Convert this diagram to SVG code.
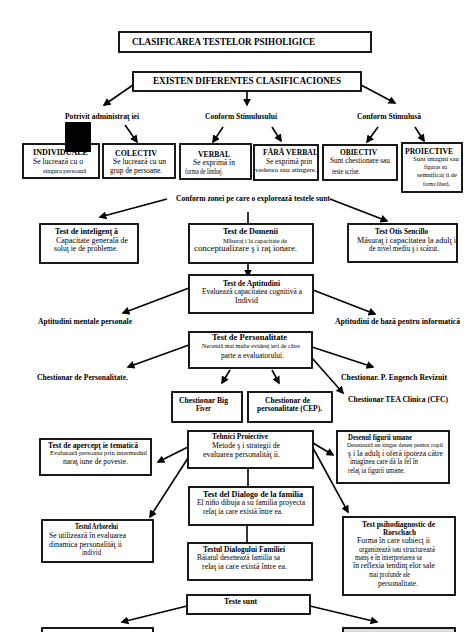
<svg xmlns="http://www.w3.org/2000/svg" width="474" height="632" viewBox="0 0 474 632">
<style>
text{font-family:"Liberation Serif","Times New Roman",serif;fill:#000}
.t{font-weight:bold;font-size:9.5px}
.b{font-weight:bold;font-size:8px}
.r{font-size:8px}
.s{font-size:6.5px}
.box{fill:#fff;stroke:#000;stroke-width:1.8}
.ln{fill:none;stroke:#000;stroke-width:1.6}
.ar{fill:none;stroke:#000;stroke-width:1.6;marker-end:url(#ah)}
</style>
<defs>
<marker id="ah" viewBox="0 0 10 10" refX="8" refY="5" markerWidth="8" markerHeight="8" orient="auto" markerUnits="userSpaceOnUse">
<path d="M0,0 L10,5 L0,10 Z" fill="#000"/>
</marker>
</defs>
<rect width="474" height="632" fill="#fff"/>

<g id="connectors">
<path class="ar" d="M133,85 L104,105"/>
<path class="ar" d="M247,91 L247,105"/>
<path class="ar" d="M361,85 L395,103"/>
<path class="ar" d="M125,125 L137,142"/>
<path class="ar" d="M223,127 L213,142"/>
<path class="ar" d="M272,127 L281,141"/>
<path class="ar" d="M378,127 L367,142"/>
<path class="ar" d="M415,127 L424,141"/>
<path class="ar" d="M167,199 L100,217"/>
<path class="ar" d="M330,199 L387,221"/>
<path class="ln" d="M248,212 L248,224"/>
<path class="ar" d="M248,263 L248,276"/>
<path class="ar" d="M189,288 L123,313"/>
<path class="ar" d="M313,290 L375,314"/>
<path class="ar" d="M189,345 L128,367"/>
<path class="ar" d="M312,347 L373,367"/>
<path class="ar" d="M230,370 L222,383"/>
<path class="ar" d="M272,370 L279,383"/>
<path class="ar" d="M312,358 L343,393"/>
<path class="ar" d="M188,447 L158,462"/>
<path class="ar" d="M188,458 L150,517"/>
<path class="ar" d="M313,443 L333,455"/>
<path class="ar" d="M313,448 L348,512"/>
<path class="ln" d="M248,468 L248,487"/>
<path class="ln" d="M247,525 L247,543"/>
<path class="ar" d="M187,606 L122,622"/>
<path class="ar" d="M310,606 L377,622"/>
</g>

<g id="title">
<rect class="box" x="119" y="32" width="252" height="20"/>
<text class="t" x="132" y="45" textLength="183" lengthAdjust="spacingAndGlyphs">CLASIFICAREA TESTELOR PSIHOLIGICE</text>
</g>

<g id="existen">
<rect class="box" x="133" y="72" width="228" height="19" stroke-width="2.2"/>
<text class="t" x="153" y="84" textLength="188" lengthAdjust="spacingAndGlyphs">EXISTEN DIFERENTES CLASIFICACIONES</text>
</g>

<g id="potrivit">
<text class="b" x="65" y="119" textLength="74" lengthAdjust="spacingAndGlyphs">Potrivit administraţ iei</text>
</g>
<g id="conform-stimulusului">
<text class="b" x="205" y="119" textLength="72" lengthAdjust="spacingAndGlyphs">Conform Stimulusului</text>
</g>
<g id="conform-stimulusa">
<text class="b" x="357" y="119" textLength="64" lengthAdjust="spacingAndGlyphs">Conform Stimulusă</text>
</g>

<g id="individuale">
<rect class="box" x="23" y="144" width="76" height="34"/>
<text class="b" x="33" y="155" textLength="55" lengthAdjust="spacingAndGlyphs">INDIVIDUALE</text>
<text class="r" x="33" y="164" textLength="50" lengthAdjust="spacingAndGlyphs">Se lucrează cu o</text>
<text class="s" x="43" y="173" textLength="43" lengthAdjust="spacingAndGlyphs">singura persoană</text>
<rect x="65" y="122" width="26" height="30" fill="#000"/>
</g>

<g id="colectiv">
<rect class="box" x="103" y="144" width="72" height="34"/>
<text class="b" x="115" y="156" textLength="42" lengthAdjust="spacingAndGlyphs">COLECTIV</text>
<text class="r" x="113" y="164" textLength="53" lengthAdjust="spacingAndGlyphs">Se lucrează cu un</text>
<text class="r" x="110" y="173" textLength="52" lengthAdjust="spacingAndGlyphs">grup de persoane.</text>
</g>

<g id="verbal">
<rect class="box" x="180" y="144" width="71" height="35"/>
<text class="b" x="198" y="157" textLength="32" lengthAdjust="spacingAndGlyphs">VERBAL</text>
<text class="r" x="193" y="165" textLength="42" lengthAdjust="spacingAndGlyphs">Se exprimă în</text>
<text class="r" x="185" y="174" textLength="38" lengthAdjust="spacingAndGlyphs">forma de limbaj.</text>
</g>

<g id="fara-verbal">
<rect class="box" x="254" y="145" width="64" height="35"/>
<text class="b" x="263" y="155" textLength="55" lengthAdjust="spacingAndGlyphs">FĂRĂ VERBAL</text>
<text class="r" x="266" y="164" textLength="46" lengthAdjust="spacingAndGlyphs">Se exprimă prin</text>
<text class="s" x="255" y="172" textLength="62" lengthAdjust="spacingAndGlyphs">vederea sau atingere.</text>
</g>

<g id="obiectiv">
<rect class="box" x="323" y="145" width="74" height="35"/>
<text class="b" x="340" y="155" textLength="37" lengthAdjust="spacingAndGlyphs">OBIECTIV</text>
<text class="r" x="330" y="163" textLength="60" lengthAdjust="spacingAndGlyphs">Sunt chestionare sau</text>
<text class="r" x="332" y="174" textLength="28" lengthAdjust="spacingAndGlyphs">teste scrise.</text>
</g>

<g id="proiective">
<rect class="box" x="402" y="143" width="60" height="49"/>
<text class="b" x="405" y="154" textLength="48" lengthAdjust="spacingAndGlyphs">PROIECTIVE</text>
<text class="s" x="413" y="161" textLength="46" lengthAdjust="spacingAndGlyphs">Sunt imagini sau</text>
<text class="s" x="424" y="169" textLength="23" lengthAdjust="spacingAndGlyphs">figuras su</text>
<text class="s" x="417" y="177" textLength="40" lengthAdjust="spacingAndGlyphs">semnificaţ ii de</text>
<text class="s" x="423" y="186" textLength="27" lengthAdjust="spacingAndGlyphs">forma liberă.</text>
</g>

<g id="conform-zonei">
<text class="b" x="176" y="201" textLength="154" lengthAdjust="spacingAndGlyphs">Conform zonei pe care o explorează testele sunt</text>
</g>

<g id="inteligenta">
<rect class="box" x="40" y="224" width="98" height="39"/>
<text class="b" x="55" y="234" textLength="63" lengthAdjust="spacingAndGlyphs">Test de inteligenţ ă</text>
<text class="r" x="56" y="243" textLength="72" lengthAdjust="spacingAndGlyphs">Capacitate generală de</text>
<text class="r" x="54" y="251" textLength="64" lengthAdjust="spacingAndGlyphs">soluţ ie de probleme.</text>
</g>

<g id="domenii">
<rect class="box" x="189" y="224" width="124" height="39"/>
<text class="b" x="223" y="234" textLength="55" lengthAdjust="spacingAndGlyphs">Test de Domenii</text>
<text class="s" x="223" y="243" textLength="64" lengthAdjust="spacingAndGlyphs">Măsuraţ i la capacitate de</text>
<text class="r" x="194" y="251" textLength="103" lengthAdjust="spacingAndGlyphs">conceptualizare ş i raţ ionare.</text>
</g>

<g id="otis">
<rect class="box" x="348" y="224" width="109" height="38"/>
<text class="b" x="375" y="234" textLength="53" lengthAdjust="spacingAndGlyphs">Test Otis Sencillo</text>
<text class="r" x="357" y="243" textLength="99" lengthAdjust="spacingAndGlyphs">Măsuraţ i capacitatea la adulţ i</text>
<text class="r" x="369" y="251" textLength="70" lengthAdjust="spacingAndGlyphs">de nivel mediu ş i scăzut.</text>
</g>

<g id="aptitudini">
<rect class="box" x="189" y="275" width="124" height="38"/>
<text class="b" x="223" y="286" textLength="57" lengthAdjust="spacingAndGlyphs">Test de Aptitudini</text>
<text class="r" x="202" y="294" textLength="100" lengthAdjust="spacingAndGlyphs">Evaluează capacitatea cognitivă a</text>
<text class="r" x="235" y="303" textLength="23" lengthAdjust="spacingAndGlyphs">Individ</text>
</g>

<g id="apt-mentale">
<text class="b" x="38" y="324" textLength="94" lengthAdjust="spacingAndGlyphs">Aptitudini mentale personale</text>
</g>
<g id="apt-baza">
<text class="b" x="335" y="324" textLength="125" lengthAdjust="spacingAndGlyphs">Aptitudini de bază pentru informatică</text>
</g>

<g id="personalitate">
<rect class="box" x="189" y="332" width="123" height="36"/>
<text class="b" x="212" y="340" textLength="75" lengthAdjust="spacingAndGlyphs">Test de Personalitate</text>
<text class="s" x="202" y="348" textLength="98" lengthAdjust="spacingAndGlyphs">Necesită mai multe evidenţ ieri de către</text>
<text class="r" x="221" y="358" textLength="63" lengthAdjust="spacingAndGlyphs">parte a evaluatorului.</text>
</g>

<g id="chest-pers">
<text class="b" x="37" y="380" textLength="91" lengthAdjust="spacingAndGlyphs">Chestionar de Personalitate.</text>
</g>
<g id="chest-engench">
<text class="b" x="341" y="380" textLength="106" lengthAdjust="spacingAndGlyphs">Chestionar. P. Engench Revizuit</text>
</g>
<g id="chest-tea">
<text class="b" x="348" y="402" textLength="100" lengthAdjust="spacingAndGlyphs">Chestionar TEA Clinica (CFC)</text>
</g>

<g id="big-fiver">
<rect class="box" x="172" y="392" width="70" height="30"/>
<text class="b" x="179" y="403" textLength="49" lengthAdjust="spacingAndGlyphs">Chestionar Big</text>
<text class="b" x="196" y="411" textLength="15" lengthAdjust="spacingAndGlyphs">Fiver</text>
</g>

<g id="cep">
<rect class="box" x="248" y="392" width="84" height="30"/>
<text class="b" x="265" y="403" textLength="45" lengthAdjust="spacingAndGlyphs">Chestionar de</text>
<text class="b" x="257" y="411" textLength="65" lengthAdjust="spacingAndGlyphs">personalitate (CEP).</text>
</g>

<g id="tehnici">
<rect class="box" x="188" y="431" width="125" height="37"/>
<text class="b" x="212" y="439" textLength="56" lengthAdjust="spacingAndGlyphs">Tehnici Proiective</text>
<text class="r" x="212" y="448" textLength="68" lengthAdjust="spacingAndGlyphs">Metode ş i strategii de</text>
<text class="r" x="203" y="457" textLength="77" lengthAdjust="spacingAndGlyphs">evaluarea personalităţ ii.</text>
</g>

<g id="apercepte">
<rect class="box" x="40" y="439" width="111" height="36"/>
<text class="b" x="48" y="448" textLength="90" lengthAdjust="spacingAndGlyphs">Test de apercepţ ie tematică</text>
<text class="s" x="50" y="455" textLength="97" lengthAdjust="spacingAndGlyphs">Evaluează persoana prin intermediul</text>
<text class="r" x="63" y="464" textLength="65" lengthAdjust="spacingAndGlyphs">naraţ iune de poveste.</text>
</g>

<g id="desenul">
<rect class="box" x="337" y="431" width="112" height="52"/>
<text class="b" x="348" y="440" textLength="64" lengthAdjust="spacingAndGlyphs">Desenul figurii umane</text>
<text class="s" x="347" y="447" textLength="96" lengthAdjust="spacingAndGlyphs">Desenează un singur desen pentru copii</text>
<text class="r" x="348" y="456" textLength="95" lengthAdjust="spacingAndGlyphs">ş i la adulţ i oferă ipoteza către</text>
<text class="r" x="350" y="464" textLength="68" lengthAdjust="spacingAndGlyphs">imaginea care dă la fel în</text>
<text class="r" x="348" y="473" textLength="57" lengthAdjust="spacingAndGlyphs">relaţ ia figurii umane.</text>
</g>

<g id="dialogo">
<rect class="box" x="189" y="487" width="124" height="38"/>
<text class="b" x="203" y="497" textLength="100" lengthAdjust="spacingAndGlyphs">Test del Dialogo de la familia</text>
<text class="r" x="197" y="505" textLength="108" lengthAdjust="spacingAndGlyphs">El niño dibuja a su familia proyecta</text>
<text class="r" x="203" y="514" textLength="80" lengthAdjust="spacingAndGlyphs">relaţ ia care există între ea.</text>
</g>

<g id="arborelui">
<rect class="box" x="42" y="520" width="111" height="42"/>
<text class="b" x="75" y="529" textLength="43" lengthAdjust="spacingAndGlyphs">Testul Arborelui</text>
<text class="r" x="49" y="538" textLength="77" lengthAdjust="spacingAndGlyphs">Se utilizează în evaluarea</text>
<text class="r" x="49" y="547" textLength="73" lengthAdjust="spacingAndGlyphs">dinamica personalităţ ii</text>
<text class="r" x="82" y="555" textLength="19" lengthAdjust="spacingAndGlyphs">individ</text>
</g>

<g id="dialogului">
<rect class="box" x="188" y="543" width="124" height="37"/>
<text class="b" x="203" y="552" textLength="82" lengthAdjust="spacingAndGlyphs">Testul Dialogului Familiei</text>
<text class="r" x="197" y="560" textLength="83" lengthAdjust="spacingAndGlyphs">Băiatul desenează familia sa</text>
<text class="r" x="202" y="569" textLength="85" lengthAdjust="spacingAndGlyphs">relaţ ia care există între ea.</text>
</g>

<g id="rorschach">
<rect class="box" x="343" y="517" width="112" height="78"/>
<text class="b" x="362" y="527" textLength="73" lengthAdjust="spacingAndGlyphs">Test psihodiagnostic de</text>
<text class="b" x="383" y="535" textLength="33" lengthAdjust="spacingAndGlyphs">Rorschach</text>
<text class="r" x="357" y="543" textLength="73" lengthAdjust="spacingAndGlyphs">Forma în care subiecţ ii</text>
<text class="r" x="359" y="552" textLength="76" lengthAdjust="spacingAndGlyphs">organizează sau structurează</text>
<text class="r" x="355" y="560" textLength="67" lengthAdjust="spacingAndGlyphs">manş e în interpretarea sa</text>
<text class="r" x="353" y="568" textLength="82" lengthAdjust="spacingAndGlyphs">în reflexia tendinţ elor sale</text>
<text class="r" x="369" y="577" textLength="41" lengthAdjust="spacingAndGlyphs">mai profunde ale</text>
<text class="r" x="378" y="586" textLength="40" lengthAdjust="spacingAndGlyphs">personalitate.</text>
</g>

<g id="teste-sunt">
<rect class="box" x="187" y="595" width="123" height="19"/>
<text class="b" x="224" y="604" textLength="33" lengthAdjust="spacingAndGlyphs">Teste sunt</text>
</g>

<g id="bottom-left">
<rect class="box" x="42" y="628" width="111" height="12"/>
</g>
<g id="bottom-right">
<rect class="box" x="343" y="628" width="112" height="12" style="fill:#dcdcdc"/>
</g>
</svg>
